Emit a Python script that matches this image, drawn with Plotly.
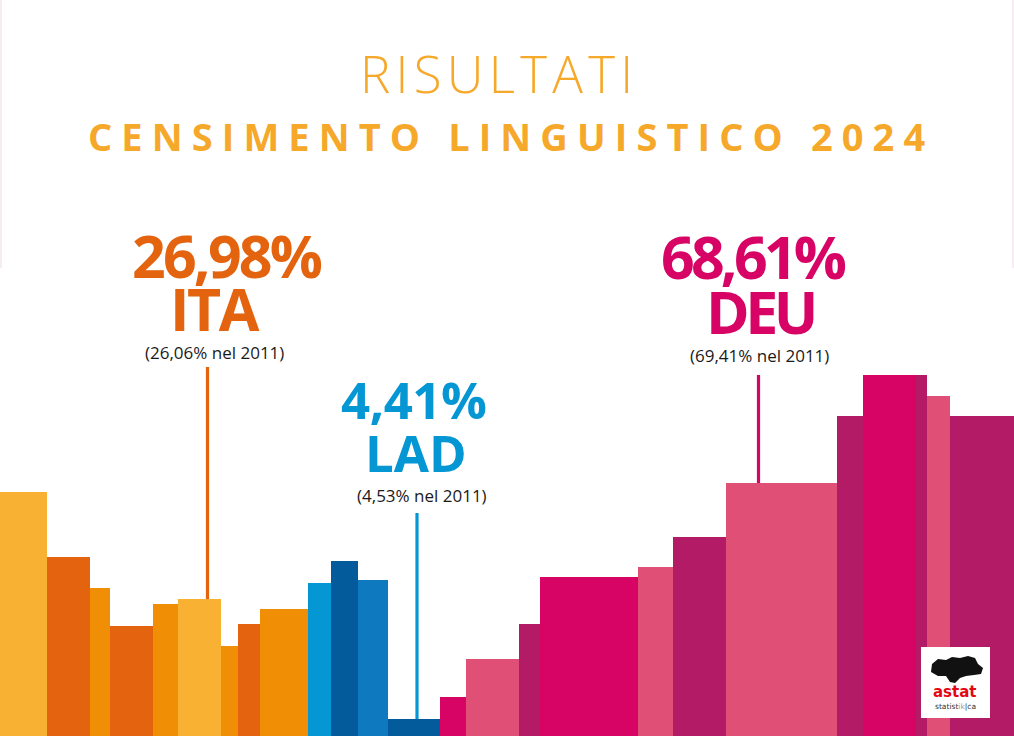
import plotly.graph_objects as go

# ---------------- data ----------------
# bar segments (left edge, right edge) along the strip and their heights
bar_left = [0, 47, 90, 110, 153, 178, 221, 238, 260, 308, 331, 358, 388,
            440, 466, 519, 540, 638, 673, 726, 837, 863, 916, 927, 950]
bar_right = bar_left[1:] + [1014]
bar_heights = [244, 179, 148, 110, 132, 137, 90, 112, 127, 153, 175, 156, 17,
               39, 77, 112, 159, 169, 199, 253, 320, 361, 361, 340, 320]
bar_shades = ["y", "o", "m", "o", "m", "y", "m", "o", "m", "b1", "b2", "b3", "b2",
              "p1", "p2", "p3", "p1", "p2", "p3", "p2", "p3", "p1", "p3", "p2", "p3"]

languages = ["ITA", "LAD", "DEU"]
share_2024 = ["26,98%", "4,41%", "68,61%"]
share_2011 = ["26,06%", "4,53%", "69,41%"]
stem_bar = [5, 12, 19]          # bar each label points to
title = "RISULTATI"
subtitle = "CENSIMENTO LINGUISTICO 2024"

# ---------------- style ----------------
W, H = 1014, 736
shade_colors = {
    "y": "#F8B133", "o": "#E3630F", "m": "#F08F05",
    "b1": "#0596D4", "b2": "#035B9B", "b3": "#0F79BF",
    "p1": "#D70466", "p2": "#E04F76", "p3": "#B31B66",
}
lang_colors = ["#E3630F", "#0596D4", "#D70466"]
title_color = "#F6A82A"

def py(y):  # pixel row -> axis value
    return H - y

centers = [(l + r) / 2 for l, r in zip(bar_left, bar_right)]
widths = [r - l for l, r in zip(bar_left, bar_right)]

fig = go.Figure()
fig.add_trace(go.Bar(
    x=centers, y=bar_heights, width=widths,
    marker=dict(color=[shade_colors[s] for s in bar_shades], line=dict(width=0)),
    hoverinfo="skip", showlegend=False,
))

# label layout (pixel positions)
lab_x = [227, 413, 753]
word_x = [215, 416, 760]
note_x = [214, 422, 759]
pct_y = [255, 399, 256]
word_y = [308, 452, 311]
note_y = [352, 495, 355]
pct_size = [59, 51, 59]
word_size = [59, 51, 59]
pct_spacing = [-2.8, -0.5, -3.8]
word_spacing = [-2.5, 0.0, -4.5]
stem_x = [207.5, 417, 758.5]
stem_top = [367, 513, 375]

for i in range(3):
    b = stem_bar[i]
    fig.add_trace(go.Scatter(
        x=[stem_x[i], stem_x[i]], y=[py(stem_top[i]), bar_heights[b]],
        mode="lines", line=dict(color=lang_colors[i], width=3.2),
        hoverinfo="skip", showlegend=False,
    ))

ann = []
for i in range(3):
    ann.append(dict(x=lab_x[i], y=py(pct_y[i]),
                    text=f'<span style="letter-spacing:{pct_spacing[i]}px">{share_2024[i]}</span>',
                    font=dict(family="Open Sans", size=pct_size[i], color=lang_colors[i], weight=700)))
    ann.append(dict(x=word_x[i], y=py(word_y[i]),
                    text=f'<span style="letter-spacing:{word_spacing[i]}px">{languages[i]}</span>',
                    font=dict(family="Open Sans", size=word_size[i], color=lang_colors[i], weight=700)))
    ann.append(dict(x=note_x[i], y=py(note_y[i]), text=f"({share_2011[i]} nel 2011)",
                    font=dict(family="Open Sans", size=17, color="#1a1a1a")))

ann.append(dict(x=499, y=py(73), text=f'<span style="letter-spacing:5.3px">{title}</span>',
                font=dict(family="Open Sans", size=51, color=title_color, weight=300)))
ann.append(dict(x=511, y=py(136), text=f'<span style="letter-spacing:9.1px">{subtitle}</span>',
                font=dict(family="Open Sans", size=38, color=title_color, weight=700)))

# logo texts
ann.append(dict(x=955, y=py(692), text="astat",
                font=dict(family="DejaVu Sans", size=15, color="#E30613", weight=700)))
ann.append(dict(x=955, y=py(706), text="statist<span style='color:#999'>ik</span>|ca",
                font=dict(family="DejaVu Sans", size=7.5, color="#333")))

for a in ann:
    a.update(xref="x", yref="y", showarrow=False, xanchor="center", yanchor="middle")

shapes = [
    # faint frame lines at top edges
    dict(type="line", x0=1, x1=1, y0=py(0), y1=py(268), line=dict(color="#F4E6EC", width=1.5)),
    dict(type="line", x0=1013, x1=1013, y0=py(0), y1=py(268), line=dict(color="#F4E6EC", width=1.5)),
    # logo box
    dict(type="rect", x0=921, x1=990, y0=py(718), y1=py(647), fillcolor="white", line=dict(width=0)),
]
# simple map silhouette for the logo
pts = [(932, 664), (938, 659), (946, 660), (952, 657), (960, 658), (968, 656),
       (975, 658), (978, 664), (983, 668), (981, 674), (974, 675), (966, 676),
       (960, 678), (955, 683), (950, 682), (946, 676), (938, 676), (931, 672)]
path = "M " + " L ".join(f"{x},{py(y)}" for x, y in pts) + " Z"
shapes.append(dict(type="path", path=path, fillcolor="#111", line=dict(width=0)))

fig.update_layout(
    width=W, height=H, margin=dict(l=0, r=0, t=0, b=0),
    paper_bgcolor="white", plot_bgcolor="white",
    xaxis=dict(range=[0, W], visible=False, fixedrange=True),
    yaxis=dict(range=[0, H], visible=False, fixedrange=True),
    bargap=0, annotations=ann, shapes=shapes,
)

fig.write_html("out.html", post_script="document.body.style.margin='0';",
               config={"displayModeBar": False})
